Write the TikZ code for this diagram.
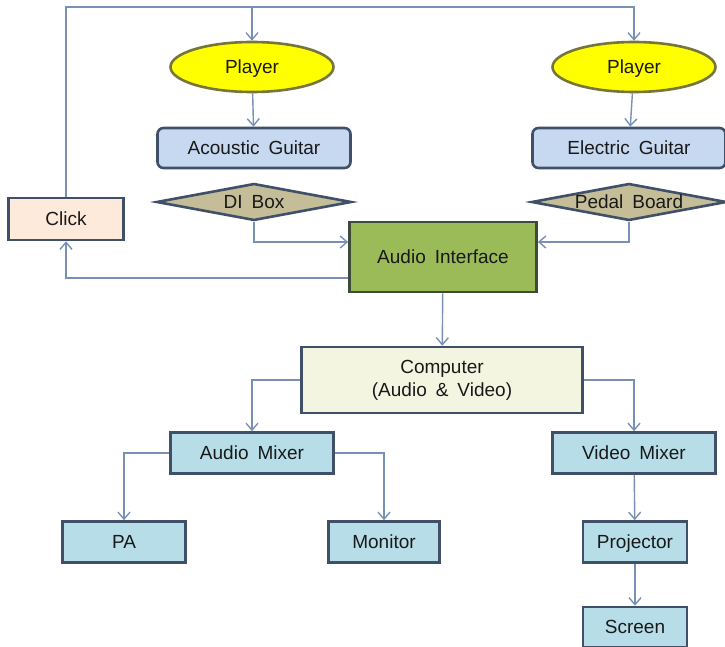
\documentclass[tikz,border=0pt]{standalone}
\usepackage{fontspec}
\setmainfont{Liberation Sans}
\usetikzlibrary{shapes.geometric,arrows.meta,positioning}

\definecolor{arrowc}{HTML}{7890B5}
\definecolor{edgec}{HTML}{3F5068}
\definecolor{playerc}{HTML}{FFFF00}
\definecolor{playeredge}{HTML}{76763A}
\definecolor{guitarc}{HTML}{C6D9F1}
\definecolor{boxc}{HTML}{C4BD97}
\definecolor{clickc}{HTML}{FDEADA}
\definecolor{interfacec}{HTML}{9BBB59}
\definecolor{interfaceedge}{HTML}{3E4B3A}
\definecolor{computerc}{HTML}{F3F5E1}
\definecolor{mixerc}{HTML}{B7DEE8}

\newcommand\diagfont{\fontsize{19}{23}\selectfont\spaceskip=9pt plus 2pt\relax}

\begin{document}
\begin{tikzpicture}[x=1pt,y=-1pt,->,>={Straight Barb[length=7pt,width=12pt]},
  line width=1.4pt,
  every node/.style={font=\diagfont,text=black!90,line width=2.6pt,draw=edgec,inner sep=0pt,
    text height=14pt,text depth=0.5pt},
  player/.style={ellipse,fill=playerc,draw=playeredge,minimum width=163pt,minimum height=50pt},
  guitar/.style={rectangle,rounded corners=6pt,fill=guitarc,minimum width=193pt,minimum height=40pt},
  effect/.style={diamond,aspect=5.3,fill=boxc,minimum width=195pt,minimum height=37pt},
  unit/.style={rectangle,fill=mixerc,minimum height=41pt}]

  \useasboundingbox (0,0) rectangle (725,647);

  % players and instruments
  \node[player]  (p1) at (252,67)  {Player};
  \node[player]  (p2) at (634,67)  {Player};
  \node[guitar]  (ag) at (254,148) {Acoustic Guitar};
  \node[guitar]  (eg) at (629,148) {Electric Guitar};
  \node[effect]  (di) at (254,202) {DI Box};
  \node[effect]  (pb) at (629,202) {Pedal Board};
  \node[rectangle,fill=clickc,minimum width=115pt,minimum height=42pt] (click) at (66,219) {Click};
  \node[rectangle,fill=interfacec,draw=interfaceedge,minimum width=187pt,minimum height=70pt] (ai) at (443,257) {Audio Interface};

  % outputs
  \node[rectangle,fill=computerc,minimum width=281pt,minimum height=66pt,align=center,
    text height=,text depth=] (comp) at (442,380) {Computer\\(Audio \& Video)};
  \node[unit,minimum width=163pt] (amix) at (252,453) {Audio Mixer};
  \node[unit,minimum width=163pt] (vmix) at (634,453) {Video Mixer};
  \node[unit,minimum width=123pt] (pa)   at (124,542) {PA};
  \node[unit,minimum width=111pt] (mon)  at (384,542) {Monitor};
  \node[unit,minimum width=104pt] (proj) at (635,542) {Projector};
  \node[unit,minimum width=104pt,minimum height=40pt] (scr) at (635,627) {Screen};

  \coordinate (top) at (252,7);

  \begin{scope}[draw=arrowc]
  \draw[-] (click.north) |- (top);
  \draw (top) -| (p2.north);
  \draw (top) -- (p1.north);
  \draw (p1) -- (ag);
  \draw (p2) -- (eg);
  \draw (di.south) |- ([yshift=15pt]ai.west);
  \draw (pb.south) |- ([yshift=15pt]ai.east);
  \draw ([yshift=-21pt]ai.west) -| (click.south);
  \draw (ai) -- (comp);
  \draw (comp.west) -| (amix.north);
  \draw (comp.east) -| (vmix.north);
  \draw (amix.west) -| (pa.north);
  \draw (amix.east) -| (mon.north);
  \draw (vmix) -- (proj);
  \draw (proj) -- (scr);
  \end{scope}
\end{tikzpicture}
\end{document}
